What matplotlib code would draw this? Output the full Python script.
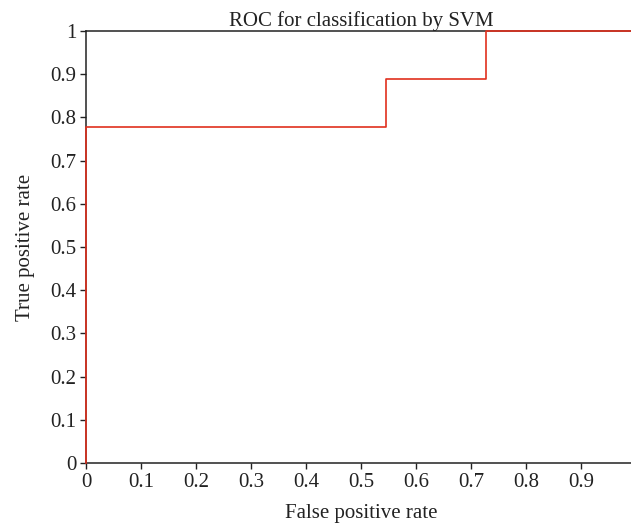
import matplotlib
matplotlib.use("Agg")
import matplotlib.pyplot as plt
import numpy as np

# ROC points (step curve)
fpr = [0.0, 0.0, 0.545, 0.545, 0.727, 0.727, 1.0]
tpr = [0.0, 0.778, 0.778, 0.889, 0.889, 1.0, 1.0]

xticks = np.round(np.arange(0, 1.01, 0.1), 1)
yticks = np.round(np.arange(0, 1.01, 0.1), 1)
tick_labels = ["0" if t == 0 else ("1" if t == 1 else "%.1f" % t) for t in xticks]

plt.rcParams['font.family'] = ['Liberation Serif', 'DejaVu Serif']

W, H = 631, 529
fig = plt.figure(figsize=(W / 100, H / 100), dpi=100)
# axes runs past the right edge of the figure (reference is cropped)
ax = fig.add_axes([86 / W, (H - 463) / H, 550 / W, 432 / H])

ax.plot(fpr, tpr, color='#e0301e', lw=1.2, clip_on=False, zorder=5)

ax.set_xlim(0, 1)
ax.set_ylim(0, 1)
ax.set_xticks(xticks)
ax.set_xticklabels(tick_labels)
ax.set_yticks(yticks)
ax.set_yticklabels(tick_labels)
ax.tick_params(direction='out', length=4, width=1, labelsize=15, pad=3,
               colors='#222222')
for s in ax.spines.values():
    s.set_linewidth(1.1)
    s.set_color('#222222')

ax.set_title("ROC for classification by SVM", fontsize=15, pad=3, color='#222222')
ax.set_xlabel("False positive rate", fontsize=15, labelpad=9, color='#222222')
ax.set_ylabel("True positive rate", fontsize=15, labelpad=11, color='#222222')

fig.savefig("out.png", dpi=100)
